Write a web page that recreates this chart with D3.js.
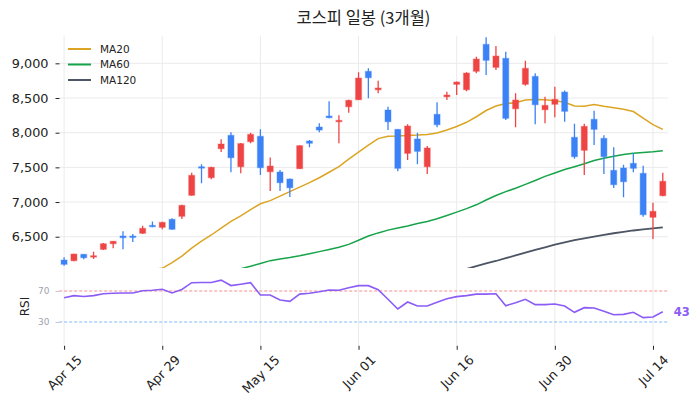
<!DOCTYPE html>
<html>
<head>
<meta charset="utf-8">
<script src="https://cdn.jsdelivr.net/npm/d3@7"></script>
<style>
body { margin: 0; background: #fff; }
text { font-family: "DejaVu Sans", sans-serif; }
</style>
</head>
<body>
<div id="chart"></div>
<script>
window.w = 700;
window.h = 411;

// daily candles, one per trading day (index 0 = Apr 15)
const opens  = [6164,6154,6246,6218,6318,6399,6510,6510,6549,6664,6635,6751,6794,7097,7509,7351,7769,7962,7509,7870,
                7948,7437,7433,7332,7481,7880,8082,8240,8163,8374,8475,8885,8619,8327,8048,7702,7909,7509,8265,8518,
                8697,8619,8885,9274,8942,9072,8345,8697,8812,8331,8409,8586,7933,7746,8193,7918,7457,7491,7558,7414,
                6780,7091];
const highs  = [6203,6255,6252,6284,6410,6440,6578,6538,6659,6721,6715,6765,6960,7423,7544,7510,7904,8005,7850,8000,
                8048,7644,7462,7340,7820,7894,8135,8452,8250,8475,8870,8928,8749,8374,8055,8121,8000,7808,8438,8591,
                8738,8870,9095,9375,9249,9167,8567,9037,8856,8518,8663,8610,8129,8129,8317,7962,7790,7538,7702,7524,
                6991,7423];
const lows   = [6082,6145,6174,6180,6310,6333,6318,6425,6540,6635,6607,6600,6755,7090,7270,7328,7721,7428,7414,7847,
                7390,7159,7159,7072,7475,7789,8005,8210,7847,8288,8470,8495,8567,8038,7443,7606,7544,7404,8077,8471,
                8543,8596,8856,8831,8903,8183,8077,8677,8121,8135,8221,8158,7625,7390,7822,7404,7202,7068,7428,6788,
                6467,7085];
const closes = [6102,6250,6197,6226,6399,6434,6486,6490,6621,6644,6707,6607,6952,7385,7501,7501,7837,7639,7843,7976,
                7495,7519,7279,7206,7813,7847,8038,8216,8178,8467,8788,8792,8644,8158,7486,8096,7731,7779,8115,8543,
                8730,8860,9062,9043,9105,8207,8471,8928,8403,8394,8481,8308,7654,8091,8048,7654,7250,7293,7486,6817,
                6866,7299];

const ma20 = [null,null,null,null,null,null,null,null,null,6030,
              6045,6125,6220,6335,6435,6525,6625,6720,6800,6890,
              6975,7020,7085,7150,7215,7280,7350,7430,7510,7620,
              7720,7822,7915,7950,7952,7960,7965,7975,7995,8040,
              8090,8150,8230,8320,8385,8420,8432,8470,8480,8475,
              8460,8440,8384,8380,8408,8380,8360,8338,8305,8210,
              8115,8048];
const ma60 = [null,null,null,null,null,null,null,null,null,null,
              null,null,null,null,null,null,null,null,6040,6075,
              6115,6155,6180,6200,6225,6255,6285,6315,6348,6390,
              6450,6510,6555,6595,6625,6655,6690,6720,6760,6805,
              6855,6905,6960,7030,7095,7150,7200,7255,7310,7370,
              7420,7470,7510,7552,7600,7630,7660,7685,7705,7715,
              7725,7740];
const ma120 = [null,null,null,null,null,null,null,null,null,null,
               null,null,null,null,null,null,null,null,null,null,
               null,null,null,null,null,null,null,null,null,null,
               null,null,null,null,null,null,null,null,null,null,
               null,6035,6075,6115,6150,6190,6230,6270,6310,6348,
               6385,6418,6450,6477,6503,6528,6550,6570,6590,6605,
               6620,6635];

const rsi = [61.4,64,63,64,66.5,67,67.5,67.5,70.4,71,72.2,67.5,72,80.7,81,81,84,77,78.8,80.7,
             64.8,64.8,58.4,56.7,66,67,69,71.3,71,74.3,76.9,76.9,71.7,59.3,46.8,55.8,50.6,50.6,55.4,60,
             62.7,64,66,66,66.5,51,54.9,59.3,52.4,52.4,53.2,50.6,42.5,48.5,48,43.8,39.4,39.8,42.5,35.6,
             36.4,43.3];

const tickIdx = [0, 10, 20, 30, 40, 50, 60];
const tickLabels = ["Apr 15", "Apr 29", "May 15", "Jun 01", "Jun 16", "Jun 30", "Jul 14"];
const priceTicks = [6500, 7000, 7500, 8000, 8500, 9000];
const rsiTicks = [30, 70];
const maNames = ["MA20", "MA60", "MA120"];

const upColor = "#ef4444", downColor = "#3b82f6";
const maColors = ["#dba523", "#16a34a", "#4b5563"];

const chart = d3.select("#chart")
  .append("svg")
  .attr("width", w)
  .attr("height", h);

const plotLeft = 59.2, plotRight = 667.7, plotTop = 35.6, mainBottom = 268, rsiBottom = 345.25;

const xScale = d3.scaleLinear().domain([-0.5, 61.5]).range([plotLeft, plotRight]);
const yScale = d3.scaleLinear().domain([6000, 9400]).range([271.4, plotTop]);
const rsiScale = d3.scaleLinear().domain([0, 100]).range([rsiBottom, 267.75]);

// title
chart.append("text")
  .attr("x", (plotLeft + plotRight) / 2)
  .attr("y", 23.5)
  .attr("text-anchor", "middle")
  .style("font-family", "'Noto Sans CJK KR', sans-serif")
  .style("font-size", "16.5px")
  .attr("fill", "#222")
  .text("코스피 일봉 (3개월)");

// grid
chart.append("g").selectAll("line")
  .data(tickIdx).enter().append("line")
  .attr("x1", d => xScale(d)).attr("x2", d => xScale(d))
  .attr("y1", plotTop).attr("y2", rsiBottom)
  .attr("stroke", "#ebebeb").attr("stroke-width", 1);

chart.append("g").selectAll("line")
  .data(priceTicks).enter().append("line")
  .attr("x1", plotLeft).attr("x2", plotRight)
  .attr("y1", d => yScale(d)).attr("y2", d => yScale(d))
  .attr("stroke", "#ebebeb").attr("stroke-width", 1);

// y axis (price)
const yAxis = chart.append("g")
  .attr("transform", "translate(" + (plotLeft + 0.3) + ",0)")
  .call(d3.axisLeft(yScale).tickValues(priceTicks).tickSize(4).tickPadding(7).tickFormat(d3.format(",")));
yAxis.select(".domain").remove();
yAxis.selectAll("text").style("font-size", "12.8px").attr("fill", "#222");
yAxis.selectAll("line").attr("stroke", "#222");

// clip for main panel
chart.append("clipPath").attr("id", "mainClip")
  .append("rect").attr("x", plotLeft).attr("y", plotTop).attr("width", plotRight - plotLeft).attr("height", mainBottom - plotTop);

const main = chart.append("g").attr("clip-path", "url(#mainClip)");

// moving averages
[ma20, ma60, ma120].forEach((arr, k) => {
  main.append("path")
    .datum(arr)
    .attr("fill", "none")
    .attr("stroke", maColors[k])
    .attr("stroke-width", k == 2 ? 1.8 : 1.5)
    .attr("d", d3.line()
      .defined(d => d != null)
      .x((d, i) => xScale(i))
      .y(d => yScale(d)));
});

// candles
const bw = 6;
const candles = main.append("g").selectAll("g")
  .data(opens.map((o, i) => ({i: i, o: o, h: highs[i], l: lows[i], c: closes[i]})))
  .enter().append("g");

candles.append("line")
  .attr("x1", d => xScale(d.i)).attr("x2", d => xScale(d.i))
  .attr("y1", d => yScale(d.h)).attr("y2", d => yScale(d.l))
  .attr("stroke", d => d.c >= d.o ? upColor : downColor)
  .attr("stroke-width", 1.3);

candles.append("rect")
  .attr("x", d => xScale(d.i) - bw / 2)
  .attr("width", bw)
  .attr("y", d => yScale(Math.max(d.o, d.c)))
  .attr("height", d => Math.max(1.4, yScale(Math.min(d.o, d.c)) - yScale(Math.max(d.o, d.c))))
  .attr("fill", d => d.c >= d.o ? upColor : downColor)
  .attr("stroke", d => d.c >= d.o ? upColor : downColor)
  .attr("stroke-opacity", 0.35)
  .attr("stroke-width", 1.2);

// legend
const legend = chart.append("g");
maNames.forEach((name, k) => {
  const ly = 49 + k * 15.5;
  legend.append("line")
    .attr("x1", 68).attr("x2", 91).attr("y1", ly).attr("y2", ly)
    .attr("stroke", maColors[k]).attr("stroke-width", 2);
  legend.append("text")
    .attr("x", 100).attr("y", ly)
    .attr("dy", "0.35em")
    .style("font-size", "10.5px")
    .attr("fill", "#222")
    .text(name);
});

// RSI panel
chart.selectAll(".rsiLevel")
  .data(rsiTicks).enter().append("line")
  .attr("x1", plotLeft).attr("x2", plotRight)
  .attr("y1", d => rsiScale(d)).attr("y2", d => rsiScale(d))
  .attr("stroke", d => d == 70 ? "#f87171" : "#60a5fa")
  .attr("stroke-opacity", 0.8)
  .attr("stroke-width", 1)
  .attr("stroke-dasharray", "3,2");

chart.append("path")
  .datum(rsi)
  .attr("fill", "none")
  .attr("stroke", "#8b5cf6")
  .attr("stroke-width", 1.6)
  .attr("d", d3.line()
    .x((d, i) => xScale(i))
    .y(d => rsiScale(d)));

chart.append("text")
  .attr("x", xScale(rsi.length - 1) + 11)
  .attr("y", rsiScale(rsi[rsi.length - 1]))
  .attr("dy", "0.35em")
  .style("font-size", "11.5px")
  .style("font-weight", "bold")
  .attr("fill", "#8b5cf6")
  .text(d3.format(".0f")(rsi[rsi.length - 1]));

const rAxis = chart.append("g")
  .attr("transform", "translate(" + (plotLeft + 0.3) + ",0)")
  .call(d3.axisLeft(rsiScale).tickValues(rsiTicks).tickSize(4).tickPadding(6));
rAxis.select(".domain").remove();
rAxis.selectAll("text").style("font-size", "9px").attr("fill", "#9ca3af");
rAxis.selectAll("line").attr("stroke", "#c4c8ce");

chart.append("text")
  .attr("transform", "translate(29," + ((rsiBottom + 267.75) / 2) + ") rotate(-90)")
  .attr("text-anchor", "middle")
  .style("font-size", "12px")
  .attr("fill", "#222")
  .text("RSI");

// x axis
const xAxis = chart.append("g")
  .attr("transform", "translate(0," + (rsiBottom + 0.5) + ")")
  .call(d3.axisBottom(xScale).tickValues(tickIdx).tickSize(4).tickFormat((d, i) => tickLabels[i]));
xAxis.select(".domain").remove();
xAxis.selectAll("line").attr("stroke", "#222");
xAxis.selectAll("text")
  .style("font-size", "12.8px")
  .attr("fill", "#222")
  .attr("text-anchor", "middle")
  .attr("dy", null)
  .attr("dominant-baseline", "central")
  .attr("transform", function() {
    const len = this.getComputedTextLength();
    const half = (len + 11) * Math.SQRT1_2 / 2;
    return "translate(0," + (8 + half) + ") rotate(-45)";
  })
  .attr("y", 0);
</script>
</body>
</html>
